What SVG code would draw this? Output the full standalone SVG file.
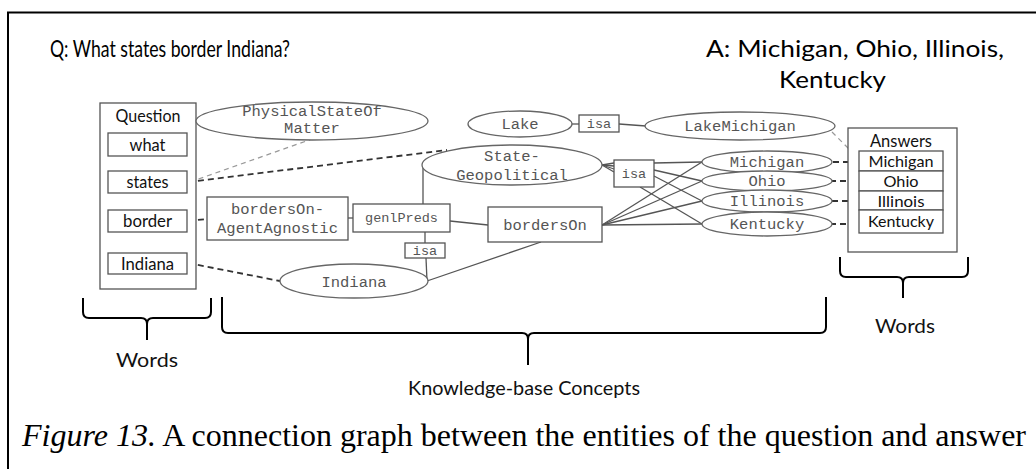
<svg xmlns="http://www.w3.org/2000/svg" width="1036" height="469" viewBox="0 0 1036 469">
<style>
.frame{fill:none;stroke:#000;stroke-width:2}
.box{fill:#fff;stroke:#555;stroke-width:1.3}
.wbox{fill:#fff;stroke:#555;stroke-width:1.3}
.ell{fill:#fff;stroke:#666;stroke-width:1.3}
.mono{font-family:"Liberation Mono","Courier New",monospace;font-size:15.5px;fill:#555;text-anchor:middle}
.monos{font-family:"Liberation Mono","Courier New",monospace;font-size:13.5px;fill:#555;text-anchor:middle}
.sans{font-family:Lato,"Open Sans",sans-serif;font-size:17.5px;fill:#111;text-anchor:middle}
.ans{font-family:Lato,"Open Sans",sans-serif;font-size:16px;fill:#111;text-anchor:middle}
.lab{font-family:Lato,"Open Sans",sans-serif;font-size:19px;fill:#111;text-anchor:middle}
.title{font-family:Lato,"Open Sans",sans-serif;font-size:23px;fill:#000}
.solid{fill:none;stroke:#555;stroke-width:1.3}
.dash{fill:none;stroke:#333;stroke-width:1.8;stroke-dasharray:6 4}
.dashthin{fill:none;stroke:#999;stroke-width:1.2;stroke-dasharray:5 4}
.brace{fill:none;stroke:#000;stroke-width:2;stroke-linejoin:round}
.cap{font-family:"Liberation Serif","Times New Roman",serif;font-size:32px;fill:#000}
</style>
<rect width="1036" height="469" fill="#fff"/>
<path class="frame" d="M8,469 L8,12.5 L1036,12.5"/>

<g id="titles">
<text class="title" x="50" y="57" textLength="240" lengthAdjust="spacingAndGlyphs">Q: What states border Indiana?</text>
<text class="title" x="706" y="57" textLength="298" lengthAdjust="spacingAndGlyphs">A: Michigan, Ohio, Illinois,</text>
<text class="title" x="779" y="88" textLength="107" lengthAdjust="spacingAndGlyphs">Kentucky</text>
</g>

<g id="connectors">
<line class="dashthin" x1="190" y1="182" x2="312" y2="139"/>
<line class="dash" x1="188" y1="182" x2="447" y2="150"/>
<line class="dash" x1="188" y1="221" x2="207" y2="219"/>
<line class="dash" x1="188" y1="263" x2="280" y2="281"/>
<line class="solid" x1="348" y1="218" x2="353" y2="218"/>
<line class="solid" x1="423" y1="166" x2="423" y2="204"/>
<line class="solid" x1="425" y1="232" x2="425" y2="243"/>
<line class="solid" x1="426" y1="258" x2="427" y2="281"/>
<line class="solid" x1="450" y1="221" x2="488" y2="225"/>
<line class="solid" x1="541" y1="242" x2="427" y2="281"/>
<line class="solid" x1="572" y1="124" x2="579" y2="124"/>
<line class="solid" x1="619" y1="124" x2="646" y2="126"/>
<line class="solid" x1="602" y1="165" x2="614" y2="163"/>
<line class="solid" x1="602" y1="165" x2="614" y2="166"/>
<line class="solid" x1="602" y1="165" x2="614" y2="169"/>
<line class="solid" x1="602" y1="165" x2="614" y2="172"/>
<line class="solid" x1="654" y1="163" x2="702" y2="162"/>
<line class="solid" x1="654" y1="170" x2="702" y2="181"/>
<line class="solid" x1="654" y1="176" x2="702" y2="201"/>
<line class="solid" x1="640" y1="187" x2="702" y2="224"/>
<line class="solid" x1="602" y1="225" x2="702" y2="162"/>
<line class="solid" x1="602" y1="225" x2="702" y2="181"/>
<line class="solid" x1="602" y1="225" x2="702" y2="201"/>
<line class="solid" x1="602" y1="225" x2="702" y2="224"/>
<line class="dashthin" x1="832" y1="132" x2="860" y2="160"/>
<line class="dash" x1="833" y1="162" x2="859" y2="162"/>
<line class="dash" x1="830" y1="181" x2="859" y2="181"/>
<line class="dash" x1="832" y1="201" x2="859" y2="201"/>
<line class="dash" x1="830" y1="224" x2="859" y2="224"/>
</g>

<g id="question">
<rect class="wbox" x="100" y="103" width="96" height="186"/>
<text class="sans" x="148" y="122" textLength="65" lengthAdjust="spacingAndGlyphs">Question</text>
</g>
<g id="q-what"><rect class="wbox" x="108" y="133" width="79" height="23"/><text class="sans" x="147.5" y="151" textLength="36" lengthAdjust="spacingAndGlyphs">what</text></g>
<g id="q-states"><rect class="wbox" x="108" y="171" width="79" height="22"/><text class="sans" x="147.5" y="188" textLength="42" lengthAdjust="spacingAndGlyphs">states</text></g>
<g id="q-border"><rect class="wbox" x="108" y="210" width="79" height="22"/><text class="sans" x="147.5" y="227" textLength="49" lengthAdjust="spacingAndGlyphs">border</text></g>
<g id="q-indiana"><rect class="wbox" x="108" y="253" width="79" height="21"/><text class="sans" x="147.5" y="269.5" textLength="53" lengthAdjust="spacingAndGlyphs">Indiana</text></g>

<g id="physical"><ellipse class="ell" cx="312" cy="121" rx="116" ry="19"/><text class="mono" x="312" y="116">PhysicalStateOf</text><text class="mono" x="312" y="133">Matter</text></g>
<g id="lake"><ellipse class="ell" cx="520" cy="124" rx="52" ry="13"/><text class="mono" x="520" y="129">Lake</text></g>
<g id="isa-lake"><rect class="box" x="579" y="115" width="40" height="17"/><text class="monos" x="599" y="128">isa</text></g>
<g id="lakemichigan"><ellipse class="ell" cx="740" cy="126" rx="95" ry="14"/><text class="mono" x="740" y="131">LakeMichigan</text></g>
<g id="stategeo"><ellipse class="ell" cx="512" cy="165" rx="90" ry="20"/><text class="mono" x="512" y="161">State-</text><text class="mono" x="512" y="180">Geopolitical</text></g>
<g id="isa-state"><rect class="box" x="614" y="160" width="40" height="27"/><text class="monos" x="634" y="178">isa</text></g>
<g id="borders-agent"><rect class="box" x="207" y="197" width="141" height="43"/><text class="mono" x="277.5" y="214">bordersOn-</text><text class="mono" x="277.5" y="233">AgentAgnostic</text></g>
<g id="genlpreds"><rect class="box" x="353" y="204" width="97" height="28"/><text class="monos" x="401.5" y="222">genlPreds</text></g>
<g id="isa-indiana"><rect class="box" x="405" y="243" width="40" height="15"/><text class="monos" x="425" y="255">isa</text></g>
<g id="borderson"><rect class="box" x="488" y="207" width="114" height="35"/><text class="mono" x="545" y="230">bordersOn</text></g>
<g id="indiana"><ellipse class="ell" cx="354" cy="281" rx="74" ry="17"/><text class="mono" x="354" y="287">Indiana</text></g>
<g id="michigan"><ellipse class="ell" cx="767" cy="162" rx="65" ry="11"/><text class="mono" x="767" y="167">Michigan</text></g>
<g id="ohio"><ellipse class="ell" cx="767" cy="181" rx="65" ry="10"/><text class="mono" x="767" y="186">Ohio</text></g>
<g id="illinois"><ellipse class="ell" cx="767" cy="201" rx="65" ry="11"/><text class="mono" x="767" y="206">Illinois</text></g>
<g id="kentucky"><ellipse class="ell" cx="767" cy="224" rx="65" ry="12"/><text class="mono" x="767" y="229">Kentucky</text></g>

<g id="answers">
<rect class="wbox" x="848" y="128" width="109" height="124"/>
<text class="sans" x="901" y="147" textLength="62" lengthAdjust="spacingAndGlyphs">Answers</text>
</g>
<g id="a-michigan"><rect class="wbox" x="859" y="151" width="84" height="20"/><text class="ans" x="901" y="167" textLength="65" lengthAdjust="spacingAndGlyphs">Michigan</text></g>
<g id="a-ohio"><rect class="wbox" x="859" y="171" width="84" height="20"/><text class="ans" x="901" y="187" textLength="35" lengthAdjust="spacingAndGlyphs">Ohio</text></g>
<g id="a-illinois"><rect class="wbox" x="859" y="191" width="84" height="19"/><text class="ans" x="901" y="206.5" textLength="47" lengthAdjust="spacingAndGlyphs">Illinois</text></g>
<g id="a-kentucky"><rect class="wbox" x="859" y="210" width="84" height="23"/><text class="ans" x="901" y="227" textLength="66" lengthAdjust="spacingAndGlyphs">Kentucky</text></g>

<g id="braces">
<path class="brace" d="M83,298 L83,312 Q83,318 89,318 L141,318 Q147,318 147,324 L147,340 M147,324 Q147,318 153,318 L205,318 Q211,318 211,312 L211,298"/>
<path class="brace" d="M222,297 L222,327 Q222,333 228,333 L522,333 Q528,333 528,339 L528,365 M528,339 Q528,333 534,333 L820,333 Q826,333 826,327 L826,297"/>
<path class="brace" d="M840,257 L840,271 Q840,277 846,277 L897,277 Q903,277 903,283 L903,298 M903,283 Q903,277 909,277 L962,277 Q968,277 968,271 L968,257"/>
<text class="lab" x="147" y="367" textLength="62" lengthAdjust="spacingAndGlyphs">Words</text>
<text class="lab" x="524" y="395" textLength="232" lengthAdjust="spacingAndGlyphs">Knowledge-base Concepts</text>
<text class="lab" x="905" y="333" textLength="60" lengthAdjust="spacingAndGlyphs">Words</text>
</g>

<text class="cap" x="22" y="446" textLength="1004" lengthAdjust="spacingAndGlyphs"><tspan font-style="italic">Figure 13.</tspan> A connection graph between the entities of the question and answer</text>
</svg>
